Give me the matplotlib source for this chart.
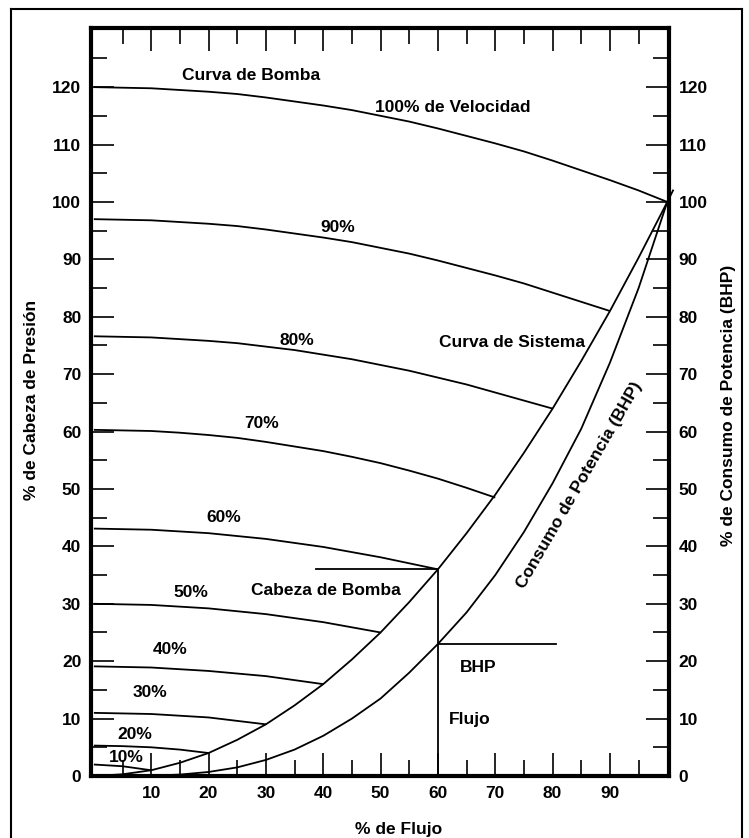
import matplotlib
matplotlib.use("Agg")
import matplotlib.pyplot as plt
from matplotlib.lines import Line2D
from matplotlib.ticker import FixedLocator

plt.rcParams['font.family'] = ['Liberation Sans', 'DejaVu Sans']
plt.rcParams['font.weight'] = 'bold'

# Pump head (% of rated) versus flow (% of rated) at each pump speed
flow_100 = [0, 5, 10, 15, 20, 25, 30, 35, 40, 45, 50, 55, 60, 65, 70, 75,
            80, 85, 90, 95, 100]
head_100 = [120, 119.9, 119.8, 119.5, 119.2, 118.8, 118.2, 117.5, 116.8,
            116.0, 115, 114.0, 112.8, 111.5, 110.2, 108.8, 107.2, 105.5,
            103.8, 102.0, 100]
flow_90 = [0, 5, 10, 15, 20, 25, 30, 35, 40, 45, 50, 55, 60, 65, 70, 75, 80,
           85, 90]
head_90 = [97, 96.9, 96.8, 96.5, 96.2, 95.8, 95.2, 94.5, 93.8, 93.0, 92,
           91.0, 89.8, 88.5, 87.2, 85.8, 84.2, 82.6, 81]
flow_80 = [0, 5, 10, 15, 20, 25, 30, 35, 40, 45, 50, 55, 60, 65, 70, 75, 80]
head_80 = [76.6, 76.5, 76.4, 76.1, 75.8, 75.4, 74.8, 74.2, 73.4, 72.6, 71.6,
           70.6, 69.4, 68.2, 66.8, 65.4, 64]
flow_70 = [0, 5, 10, 15, 20, 25, 30, 35, 40, 45, 50, 55, 60, 65, 70]
head_70 = [60.3, 60.2, 60.1, 59.8, 59.4, 58.9, 58.2, 57.4, 56.6, 55.6, 54.5,
           53.2, 51.8, 50.2, 48.5]
flow_60 = [0, 10, 20, 30, 40, 50, 60]
head_60 = [43.1, 42.9, 42.3, 41.3, 39.9, 38.1, 36]
flow_50 = [0, 10, 20, 30, 40, 50]
head_50 = [30, 29.8, 29.2, 28.2, 26.8, 25]
flow_40 = [0, 10, 20, 30, 40]
head_40 = [19.1, 18.9, 18.3, 17.4, 16]
flow_30 = [0, 10, 20, 30]
head_30 = [11, 10.8, 10.2, 9]
flow_20 = [0, 5, 10, 15, 20]
head_20 = [5.3, 5.2, 5.0, 4.6, 4]
flow_10 = [0, 5, 10]
head_10 = [2.0, 1.7, 1.0]

speed_labels = ["90%", "80%", "70%", "60%", "50%", "40%", "30%", "20%", "10%"]
speed_label_x = [42.6, 35.4, 29.3, 22.7, 17.0, 13.3, 9.8, 7.2, 5.7]
speed_label_y = [95.6, 75.9, 61.4, 45.0, 32.0, 22.1, 14.5, 7.3, 3.2]

# System curve (head vs flow)
system_flow = [0, 5, 10, 15, 20, 25, 30, 35, 40, 45, 50, 55, 60, 65, 70,
               75, 80, 85, 90, 95, 100, 101]
system_head = [0, 0.3, 1, 2.3, 4, 6.3, 9, 12.3, 16, 20.3, 25, 30.3, 36, 42.3,
               49, 56.3, 64, 72.3, 81, 90.3, 100, 102]

# Brake horsepower consumption vs flow
bhp_flow = [0, 5, 10, 15, 20, 25, 30, 35, 40, 45, 50, 55, 60, 65, 70, 75,
            80, 85, 90, 95, 100]
bhp_value = [0, 0, 0.05, 0.25, 0.7, 1.5, 2.8, 4.6, 7, 10, 13.5, 18, 23, 28.5,
             35, 42.5, 51, 60.5, 72, 85, 100]

# Operating point at 60 % flow
op_flow = 60
op_head = 36
op_bhp = 23
head_line_start = 38.8
bhp_line_end = 80.6

x_ticks = [10, 20, 30, 40, 50, 60, 70, 80, 90]
y_ticks = [0, 10, 20, 30, 40, 50, 60, 70, 80, 90, 100, 110, 120]

W, H = 749, 838
fig = plt.figure(figsize=(W / 100, H / 100), dpi=100)
ax = fig.add_axes([91 / W, 1 - 776 / H, (669 - 91) / W, (776 - 28) / H])
ax.set_xlim(-0.5, 100.3)
ax.set_ylim(0, 130.3)

lw = 1.3
curves = [(flow_100, head_100), (flow_90, head_90), (flow_80, head_80),
          (flow_70, head_70), (flow_60, head_60), (flow_50, head_50),
          (flow_40, head_40), (flow_30, head_30), (flow_20, head_20),
          (flow_10, head_10)]
for fx, hy in curves:
    ax.plot(fx, hy, color='black', lw=lw, solid_capstyle='butt')

ax.plot(system_flow, system_head, color='black', lw=lw, clip_on=False)
ax.plot(bhp_flow, bhp_value, color='black', lw=lw)

# operating-point guide lines
ax.plot([head_line_start, op_flow], [op_head, op_head], color='black', lw=lw)
ax.plot([op_flow, op_flow], [0, op_head], color='black', lw=lw)
ax.plot([op_flow, bhp_line_end], [op_bhp, op_bhp], color='black', lw=lw)

fs = 12.5
for lab, lx, ly in zip(speed_labels, speed_label_x, speed_label_y):
    ax.text(lx, ly, lab, fontsize=fs, ha='center', va='center')

ax.text(15.3, 122.0, "Curva de Bomba", fontsize=fs, ha='left', va='center')
ax.text(62.6, 116.5, "100% de Velocidad", fontsize=fs, ha='center', va='center')
ax.text(73.0, 75.6, "Curva de Sistema", fontsize=fs, ha='center', va='center')
ax.text(40.4, 32.3, "Cabeza de Bomba", fontsize=fs, ha='center', va='center')
ax.text(67.0, 18.9, "BHP", fontsize=fs, ha='center', va='center')
ax.text(65.6, 9.9, "Flujo", fontsize=fs, ha='center', va='center')
ax.text(84.7, 50.6, "Consumo de Potencia (BHP)", fontsize=fs, ha='center',
        va='center', rotation=60, rotation_mode='anchor')

# axes styling
for sp in ax.spines.values():
    sp.set_linewidth(3)
ax.xaxis.set_major_locator(FixedLocator(x_ticks))
ax.xaxis.set_minor_locator(FixedLocator(list(range(5, 100, 10))))
ax.yaxis.set_major_locator(FixedLocator(y_ticks))
ax.yaxis.set_minor_locator(FixedLocator(list(range(5, 130, 10))))
ax.tick_params(which='both', direction='in', top=True, right=True,
               labelright=True, width=1.2, labelsize=fs, pad=7)
ax.tick_params(which='major', length=16.5)
ax.tick_params(which='minor', length=11.5)
ax.set_xticklabels([str(v) for v in x_ticks])
for lab in ax.get_xticklabels() + ax.get_yticklabels():
    lab.set_fontweight('bold')

fig.text(32 / W, 1 - 400 / H, "% de Cabeza de Presión", fontsize=fs,
         rotation=90, ha='center', va='center')
fig.text(728 / W, 1 - 405 / H, "% de Consumo de Potencia (BHP)", fontsize=fs,
         rotation=90, ha='center', va='center')
fig.text(399 / W, 1 - 829 / H, "% de Flujo", fontsize=fs, ha='center',
         va='center')

# thin frame around the figure
frame_kw = dict(color='black', lw=1.5, transform=fig.transFigure)
fig.add_artist(Line2D([11 / W, 742 / W], [1 - 9 / H, 1 - 9 / H], **frame_kw))
fig.add_artist(Line2D([11 / W, 11 / W], [1 - 9 / H, 0], **frame_kw))
fig.add_artist(Line2D([742 / W, 742 / W], [1 - 9 / H, 0], **frame_kw))

fig.savefig("out.png", dpi=100, facecolor='white')
